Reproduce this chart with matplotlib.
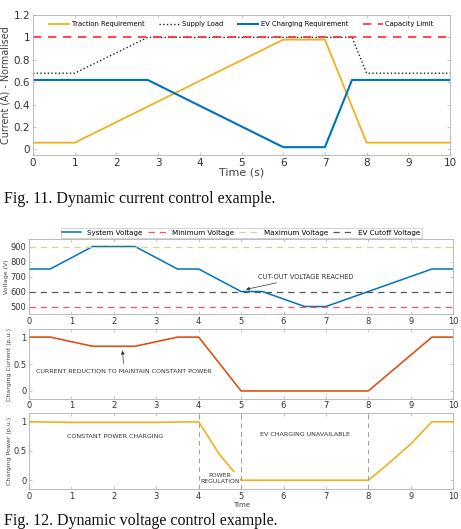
import matplotlib
matplotlib.use('Agg')
import matplotlib.pyplot as plt

# Fig. 11 data
t_trac = [0, 1, 6, 7, 8, 10]
trac = [0.06, 0.06, 0.98, 0.98, 0.06, 0.06]
t_supply = [0, 1, 2.75, 7.65, 8, 10]
supply = [0.68, 0.68, 1.0, 1.0, 0.68, 0.68]
t_ev = [0, 2.75, 6, 7, 7.65, 10]
ev = [0.62, 0.62, 0.02, 0.02, 0.62, 0.62]
capacity = 1.0

# Fig. 12 data
t_volt = [0, 0.5, 1.5, 2.5, 3.5, 4, 5, 5.5, 6.5, 7, 8, 9.5, 10]
volt = [750, 750, 900, 900, 750, 750, 600, 600, 500, 500, 600, 750, 750]
v_min, v_max, v_cut = 500, 900, 600
t_cur = [0, 0.5, 1.5, 2.5, 3.5, 4, 5, 8, 9.5, 10]
cur = [1, 1, 0.83, 0.83, 1, 1, 0, 0, 1, 1]
t_pow = [0, 1, 3, 4, 4.5, 5, 8, 8.5, 9, 9.5, 10]
pw = [1, 0.99, 0.99, 1, 0.43, 0, 0, 0.3, 0.62, 1, 1]
regions = [4, 5, 8]

BLUE = '#0072BD'
ORANGE = '#EDB120'
RED = '#D95319'
EDGE = '#b0b0b0'
TXT = '#333333'


def style(ax, fs):
    for s in ax.spines.values():
        s.set_color(EDGE)
        s.set_linewidth(0.6)
    ax.tick_params(direction='in', top=True, right=True, length=2.5, width=0.5,
                   colors=EDGE, labelcolor=TXT, labelsize=fs, pad=2)


fig = plt.figure(figsize=(4.61, 5.29), dpi=100)

# ---- Fig. 11 ----
ax = fig.add_axes([0.0716, 0.707, 0.9046, 0.2647])
ax.plot(t_trac, trac, color=ORANGE, lw=1.3, label='Traction Requirement')
ax.plot(t_supply, supply, color='#222222', lw=1.0, ls=':', label='Supply Load')
ax.plot(t_ev, ev, color=BLUE, lw=1.5, label='EV Charging Requirement')
ax.axhline(capacity, color='#ff2828', lw=1.2, ls=(0, (5, 4)), label='Capacity Limit')
ax.set_xlim(0, 10)
ax.set_ylim(-0.05, 1.2)
ax.set_xticks(range(0, 11))
ax.set_yticks([0, 0.2, 0.4, 0.6, 0.8, 1, 1.2])
ax.set_yticklabels(['0', '0.2', '0.4', '0.6', '0.8', '1', '1.2'])
style(ax, 7.5)
ax.set_xlabel('Time (s)', fontsize=8, color='#444444', labelpad=0)
ax.set_ylabel('Current (A) - Normalised', fontsize=6.9, color='#444444', labelpad=2)
ax.legend(loc='upper center', ncol=4, frameon=False, fontsize=4.9,
          bbox_to_anchor=(0.5, 1.0), handlelength=2.9, columnspacing=2.2,
          handletextpad=0.4, borderaxespad=0.5)

fig.text(0.008, 0.617, 'Fig. 11. Dynamic current control example.',
         family='Liberation Serif', fontsize=11.5, color='#111111')

# ---- Fig. 12 ----
ax1 = fig.add_axes([0.063, 0.4064, 0.92, 0.1418])
ax1.plot(t_volt, volt, color=BLUE, lw=1.1, label='System Voltage')
ax1.axhline(v_min, color='#ff5060', lw=0.9, ls=(0, (5, 4)), label='Minimum Voltage')
ax1.axhline(v_max, color='#c8d890', lw=0.9, ls=(0, (5, 4)), label='Maximum Voltage')
ax1.axhline(v_cut, color='#555555', lw=0.9, ls=(0, (5, 4)), label='EV Cutoff Voltage')
ax1.set_xlim(0, 10)
ax1.set_ylim(450, 950)
ax1.set_xticks(range(0, 11))
ax1.set_yticks([500, 600, 700, 800, 900])
style(ax1, 6)
ax1.tick_params(labelbottom=False)
ax1.set_ylabel('Voltage (V)', fontsize=4.5, color='#444444', labelpad=1)
ax1.annotate('CUT-OUT VOLTAGE REACHED', xy=(5.05, 610), xytext=(5.4, 700),
             fontsize=4.75, color=TXT, va='center',
             arrowprops=dict(arrowstyle='-|>', color=TXT, lw=0.5,
                             mutation_scale=5))
leg = ax1.legend(loc='lower center', ncol=4, bbox_to_anchor=(0.5, 1.0),
                 fontsize=5.1, frameon=True, fancybox=False, handlelength=2.6,
                 columnspacing=0.8, borderpad=0.25, borderaxespad=0.2)
leg.get_frame().set_edgecolor(EDGE)
leg.get_frame().set_linewidth(0.5)

ax2 = fig.add_axes([0.063, 0.2457, 0.92, 0.1323])
ax2.plot(t_cur, cur, color=RED, lw=1.2)
ax2.set_xlim(0, 10)
ax2.set_ylim(-0.15, 1.15)
ax2.set_xticks(range(0, 11))
ax2.set_yticks([0, 0.5, 1])
ax2.set_yticklabels(['0', '0.5', '1'])
style(ax2, 6)
ax2.tick_params(labelbottom=False, labeltop=True)
ax2.set_ylabel('Charging Current (p.u.)', fontsize=4.5, color='#444444', labelpad=1)
ax2.annotate('CURRENT REDUCTION TO MAINTAIN CONSTANT POWER', xy=(2.2, 0.8),
             xytext=(2.24, 0.36), fontsize=4.6, color=TXT, ha='center',
             va='center',
             arrowprops=dict(arrowstyle='-|>', color=TXT, lw=0.5,
                             mutation_scale=5))

ax3 = fig.add_axes([0.063, 0.0756, 0.92, 0.1437])
ax3.plot(t_pow, pw, color=ORANGE, lw=1.2)
for r in regions:
    ax3.axvline(r, color='#a0a0a0', lw=0.7, ls=(0, (5, 4)))
ax3.set_xlim(0, 10)
ax3.set_ylim(-0.15, 1.15)
ax3.set_xticks(range(0, 11))
ax3.set_yticks([0, 0.5, 1])
ax3.set_yticklabels(['0', '0.5', '1'])
style(ax3, 6)
ax3.tick_params(labeltop=True)
ax3.set_xlabel('Time', fontsize=5, color='#444444', labelpad=1)
ax3.set_ylabel('Charging Power (p.u.)', fontsize=4.5, color='#444444', labelpad=1)
ax3.text(2.03, 0.75, 'CONSTANT POWER CHARGING', fontsize=4.6, color=TXT,
         ha='center', va='center')
ax3.text(6.5, 0.78, 'EV CHARGING UNAVAILABLE', fontsize=4.6, color=TXT,
         ha='center', va='center')
ax3.text(4.5, 0.03, 'POWER\nREGULATION', fontsize=4.4, color=TXT,
         ha='center', va='center', linespacing=1.3,
         bbox=dict(facecolor='white', edgecolor='none', pad=0.3))

fig.text(0.008, 0.0, 'Fig. 12. Dynamic voltage control example.',
         family='Liberation Serif', fontsize=11.5, color='#111111', va='bottom')

fig.savefig('out.png', dpi=100)
